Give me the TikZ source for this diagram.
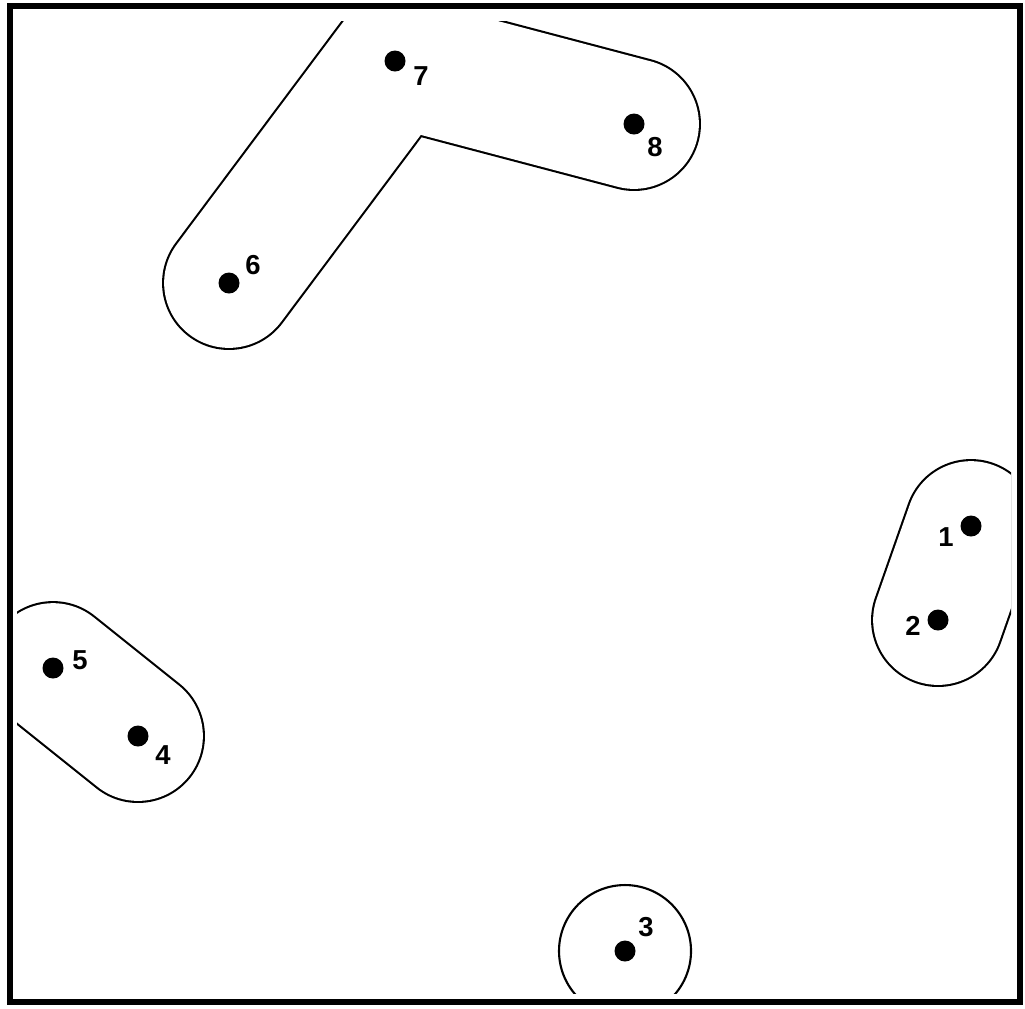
\documentclass[tikz,border=0pt]{standalone}
\usepackage{fontspec}
\setmainfont{Liberation Sans}
\usetikzlibrary{backgrounds}
\begin{document}
\begin{tikzpicture}[x=0.1mm, y=-0.1mm,
		site/.style={circle, fill=black, inner sep=0pt, minimum size=2.1mm},
		num/.style={font=\bfseries\fontsize{7.8}{9}\selectfont, inner sep=0pt},
		zoneout/.style={black, line width=38.1pt, line cap=round, line join=miter},
		zonein/.style={white, line width=36.9pt, line cap=round, line join=miter}]
	\useasboundingbox (0,0) rectangle (1025,1008);
	
	% 1. 点与编号
	\node[site] (p1) at (971,526) {};  \node[num] (n1) at (946,537) {1};
	\node[site] (p2) at (938,620) {};  \node[num] (n2) at (913,626) {2};
	\node[site] (p3) at (625,951) {};  \node[num] (n3) at (646,927) {3};
	\node[site] (p4) at (138,736) {};  \node[num] (n4) at (163,755) {4};
	\node[site] (p5) at (53,668) {};   \node[num] (n5) at (80,660) {5};
	\node[site] (p6) at (229,283) {};  \node[num] (n6) at (253,265) {6};
	\node[site] (p7) at (395,61) {};   \node[num] (n7) at (421,76) {7};
	\node[site] (p8) at (634,124) {};  \node[num] (n8) at (655,147) {8};
	
	% 2. 邻域轮廓 (底层, 在边框内侧截断)
	\begin{scope}[on background layer]
		\clip (17,21) rectangle (1011,993);
		\draw[zoneout] (p1.center) -- (p2.center);
		\draw[zonein]  (p1.center) -- (p2.center);
		\draw[zoneout] (p4.center) -- (p5.center);
		\draw[zonein]  (p4.center) -- (p5.center);
		\draw[zoneout] (p6.center) -- (p7.center) -- (p8.center);
		\draw[zonein]  (p6.center) -- (p7.center) -- (p8.center);
		\draw[line width=0.6pt] (p3.center) circle[radius=6.6mm];
	\end{scope}
	
	% 3. 边框
	\draw[line width=0.65mm] (10,6) rectangle (1020,1002);
\end{tikzpicture}
\end{document}
